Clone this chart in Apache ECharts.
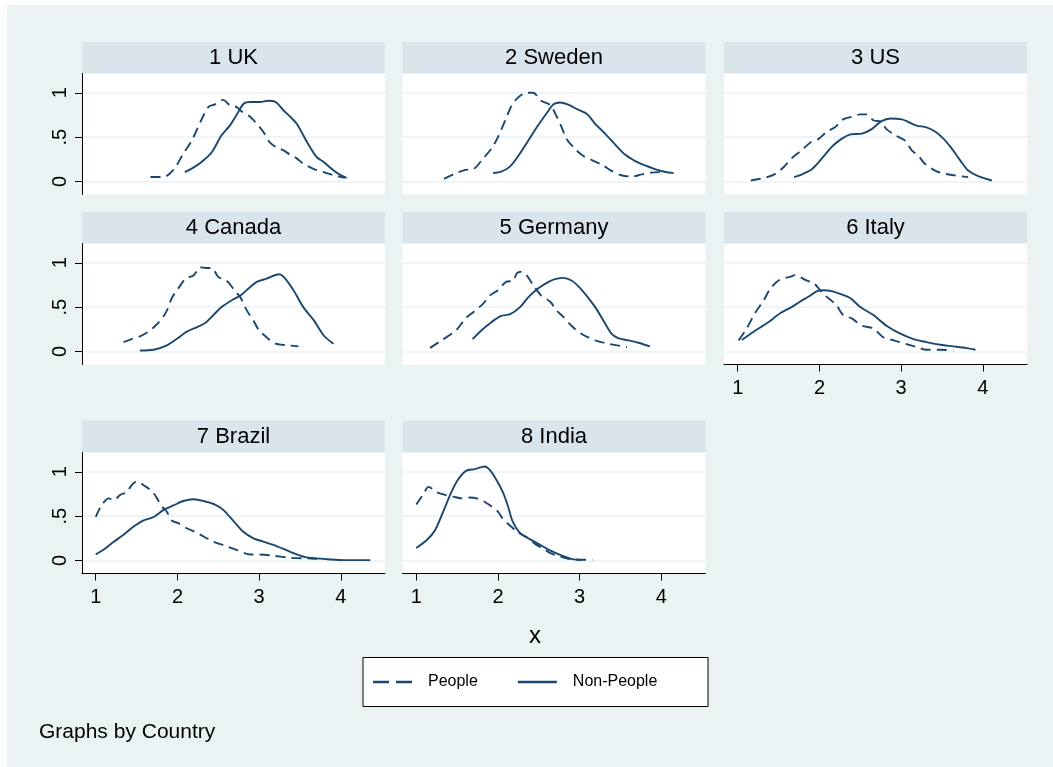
<!DOCTYPE html>
<html><head><meta charset="utf-8">
<script src="https://cdn.jsdelivr.net/npm/echarts@6/dist/echarts.min.js"></script>
<style>html,body{margin:0;padding:0;background:#fff}#c{width:1053px;height:767px}</style>
</head><body><div id="c"></div>
<script>
const countries = ['1 UK','2 Sweden','3 US','4 Canada','5 Germany','6 Italy','7 Brazil','8 India'];
const seriesNames = ['People','Non-People'];
const xTicks = [1,2,3,4];
const yTicks = [0,0.5,1];
const yTickLabels = {0:'0',0.5:'.5',1:'1'};
const xTitle = 'x';
const note = 'Graphs by Country';

const ukPeople = [[1.67,.05],[1.83,.05],[1.95,.13],[2.07,.31],[2.18,.47],[2.28,.67],[2.38,.84],[2.46,.87],[2.56,.92],[2.64,.86],[2.72,.84],[2.80,.78],[2.89,.73],[2.97,.65],[3.05,.56],[3.13,.44],[3.22,.38],[3.30,.35],[3.38,.30],[3.46,.26],[3.54,.20],[3.67,.14],[3.79,.105],[3.91,.07],[4.05,.04]];
const ukNon = [[2.09,.105],[2.22,.17],[2.32,.24],[2.42,.33],[2.54,.52],[2.64,.63],[2.73,.76],[2.81,.876],[2.89,.895],[3.01,.895],[3.11,.91],[3.2,.895],[3.30,.80],[3.38,.73],[3.46,.65],[3.54,.52],[3.62,.39],[3.71,.27],[3.79,.22],[3.89,.14],[3.97,.086],[4.07,.04]];
const swPeople = [[1.34,.03],[1.47,.086],[1.6,.13],[1.70,.14],[1.82,.26],[1.92,.37],[2.0,.50],[2.09,.69],[2.17,.86],[2.25,.95],[2.35,1.0],[2.43,1.0],[2.53,.91],[2.64,.86],[2.72,.73],[2.78,.61],[2.84,.48],[2.94,.37],[3.04,.29],[3.15,.24],[3.27,.19],[3.39,.12],[3.51,.07],[3.64,.056],[3.76,.08],[3.88,.10],[4.0,.105]];
const swNon = [[1.94,.094],[2.04,.11],[2.15,.17],[2.25,.29],[2.37,.46],[2.49,.63],[2.62,.80],[2.68,.87],[2.76,.89],[2.86,.865],[2.98,.81],[3.09,.76],[3.19,.65],[3.31,.54],[3.43,.42],[3.56,.30],[3.68,.23],[3.80,.18],[3.92,.14],[4.04,.11],[4.15,.094]];
const usPeople = [[1.16,.011],[1.33,.04],[1.46,.086],[1.56,.16],[1.66,.26],[1.78,.35],[1.89,.44],[1.99,.48],[2.09,.56],[2.19,.61],[2.29,.70],[2.40,.73],[2.50,.756],[2.58,.756],[2.66,.69],[2.76,.67],[2.82,.59],[2.93,.52],[3.05,.46],[3.13,.35],[3.21,.29],[3.29,.20],[3.42,.12],[3.54,.086],[3.66,.068],[3.82,.049]];
const usNon = [[1.69,.049],[1.80,.086],[1.91,.14],[2.03,.26],[2.15,.39],[2.27,.48],[2.38,.53],[2.52,.54],[2.64,.59],[2.76,.68],[2.87,.71],[3.01,.70],[3.09,.67],[3.19,.63],[3.31,.61],[3.42,.56],[3.52,.48],[3.62,.37],[3.72,.24],[3.82,.124],[3.95,.056],[4.11,.011]];
const caPeople = [[1.34,.106],[1.44,.14],[1.54,.17],[1.64,.22],[1.73,.29],[1.81,.37],[1.87,.46],[1.93,.60],[2.01,.71],[2.10,.82],[2.20,.86],[2.28,.95],[2.36,.94],[2.42,.94],[2.50,.84],[2.60,.80],[2.69,.70],[2.77,.61],[2.85,.46],[2.93,.35],[2.99,.25],[3.09,.16],[3.20,.087],[3.32,.072],[3.48,.057]];
const caNon = [[1.54,.011],[1.71,.019],[1.87,.068],[1.99,.14],[2.11,.22],[2.24,.275],[2.34,.32],[2.44,.41],[2.54,.50],[2.67,.58],[2.77,.63],[2.87,.71],[2.97,.785],[3.09,.82],[3.24,.87],[3.30,.84],[3.42,.69],[3.54,.50],[3.67,.35],[3.79,.18],[3.91,.087]];
const dePeople = [[1.17,.04],[1.31,.125],[1.49,.24],[1.60,.37],[1.72,.46],[1.82,.54],[1.90,.63],[2.0,.69],[2.10,.785],[2.19,.80],[2.23,.88],[2.29,.90],[2.35,.86],[2.43,.75],[2.53,.63],[2.64,.56],[2.72,.46],[2.80,.39],[2.90,.29],[3.02,.20],[3.19,.125],[3.35,.087],[3.58,.049]];
const deNon = [[1.69,.14],[1.80,.24],[1.92,.33],[2.04,.40],[2.15,.42],[2.27,.50],[2.37,.61],[2.49,.71],[2.62,.785],[2.70,.815],[2.80,.83],[2.90,.80],[3.00,.72],[3.10,.61],[3.19,.50],[3.29,.35],[3.39,.20],[3.47,.15],[3.60,.125],[3.72,.098],[3.86,.057]];
const itPeople = [[1.01,.125],[1.11,.26],[1.21,.43],[1.32,.58],[1.40,.71],[1.50,.80],[1.58,.83],[1.64,.84],[1.70,.86],[1.76,.84],[1.84,.80],[1.93,.77],[1.99,.71],[2.07,.63],[2.15,.57],[2.21,.52],[2.29,.41],[2.40,.37],[2.52,.29],[2.66,.26],[2.78,.16],[2.91,.125],[3.05,.087],[3.19,.049],[3.31,.019],[3.48,.019],[3.64,.011]];
const itNon = [[1.05,.13],[1.19,.22],[1.36,.32],[1.52,.43],[1.66,.50],[1.76,.56],[1.87,.62],[1.97,.68],[2.05,.69],[2.15,.68],[2.25,.65],[2.38,.60],[2.50,.50],[2.66,.41],[2.82,.29],[2.99,.20],[3.15,.14],[3.31,.106],[3.48,.075],[3.64,.057],[3.80,.038],[3.91,.019]];
const brPeople = [[1.0,.49],[1.07,.62],[1.16,.70],[1.22,.68],[1.30,.74],[1.38,.77],[1.44,.85],[1.50,.89],[1.60,.84],[1.69,.78],[1.75,.70],[1.81,.61],[1.87,.55],[1.93,.45],[2.01,.42],[2.12,.36],[2.22,.32],[2.32,.27],[2.44,.21],[2.57,.17],[2.73,.117],[2.89,.068],[3.01,.068],[3.18,.053],[3.38,.03],[3.59,.023],[3.79,.015]];
const brNon = [[1.0,.068],[1.09,.117],[1.22,.21],[1.34,.29],[1.46,.38],[1.58,.45],[1.71,.49],[1.83,.57],[1.95,.62],[2.07,.67],[2.20,.69],[2.32,.67],[2.46,.63],[2.56,.57],[2.69,.44],[2.81,.32],[2.93,.25],[3.06,.21],[3.22,.16],[3.38,.098],[3.55,.041],[3.71,.023],[3.87,.011],[4.04,.004],[4.36,.004]];
const inPeople = [[1.0,.63],[1.09,.75],[1.15,.83],[1.25,.77],[1.35,.74],[1.45,.72],[1.56,.70],[1.66,.71],[1.74,.70],[1.82,.67],[1.92,.61],[2.0,.55],[2.06,.47],[2.14,.40],[2.24,.32],[2.37,.25],[2.45,.19],[2.55,.135],[2.65,.079],[2.77,.041],[2.89,.015],[3.06,.008],[3.16,.008]];
const inNon = [[1.0,.14],[1.13,.23],[1.23,.34],[1.33,.55],[1.43,.77],[1.51,.91],[1.61,1.01],[1.72,1.03],[1.84,1.06],[1.90,1.02],[1.98,.91],[2.06,.77],[2.12,.62],[2.18,.44],[2.26,.32],[2.37,.25],[2.49,.19],[2.63,.117],[2.77,.06],[2.91,.015],[3.02,.004]];

const panelData = [[ukPeople,ukNon],[swPeople,swNon],[usPeople,usNon],[caPeople,caNon],[dePeople,deNon],[itPeople,itNon],[brPeople,brNon],[inPeople,inNon]];

// layout
const FONT = '"Liberation Sans", Arial, Helvetica, sans-serif';
const NAVY = '#1a476f';
const BG = '#eaf2f3';
const HEAD = '#d9e5eb';
const colLeft = [82, 402.5, 724];
const rowTop = [73.5, 243.5, 452.5];
const headTop = [42, 212, 420.5];
const plotW = 303, plotH = 121;
const xMin = 0.832, xMax = 4.54, yMin = -0.147, yMax = 1.217;

const grids = [], xAxes = [], yAxes = [], series = [], graphics = [];
graphics.push({type:'rect', shape:{x:0,y:0,width:1053,height:5}, style:{fill:'#fff'}, silent:true});
graphics.push({type:'rect', shape:{x:0,y:0,width:7,height:767}, style:{fill:'#fff'}, silent:true});

countries.forEach((name, i) => {
  const r = Math.floor(i / 3), c = i % 3;
  const left = colLeft[c], top = rowTop[r];
  grids.push({left: left, top: top, width: plotW, height: plotH, show: true,
    backgroundColor: '#fff', borderWidth: 0});
  const showX = i >= 5;
  const showY = c === 0;
  xAxes.push({gridIndex: i, type: 'value', min: xMin, max: xMax,
    axisLine: {show: showX, onZero: false, lineStyle: {color: '#000', width: 1}},
    axisTick: {show: showX, customValues: xTicks, length: 7, lineStyle: {color: '#000', width: 1}},
    axisLabel: {show: showX, customValues: xTicks, fontSize: 20, color: '#000', margin: 14, fontFamily: FONT},
    splitLine: {show: false}});
  yAxes.push({gridIndex: i, type: 'value', min: yMin, max: yMax,
    axisLine: {show: showY, onZero: false, lineStyle: {color: '#000', width: 1}},
    axisTick: {show: showY, customValues: yTicks, length: 7, lineStyle: {color: '#000', width: 1}},
    axisLabel: {show: showY, customValues: yTicks, rotate: 90, fontSize: 20, color: '#000', margin: 12,
      fontFamily: FONT, formatter: v => yTickLabels[v] !== undefined ? yTickLabels[v] : String(v)},
    splitLine: {show: true, lineStyle: {color: BG, width: 1.5}}});
  const [pp, np] = panelData[i];
  series.push({name: seriesNames[0], type: 'line', xAxisIndex: i, yAxisIndex: i, data: pp,
    showSymbol: false, symbol: 'none', smooth: 0.3, silent: true,
    lineStyle: {color: NAVY, width: 1.9, type: [10, 6]}, itemStyle: {color: NAVY}});
  series.push({name: seriesNames[1], type: 'line', xAxisIndex: i, yAxisIndex: i, data: np,
    showSymbol: false, symbol: 'none', smooth: 0.3, silent: true,
    lineStyle: {color: NAVY, width: 1.9}, itemStyle: {color: NAVY}});
  const hTop = headTop[r], hH = top - hTop;
  graphics.push({type: 'group', silent: true, children: [
    {type: 'rect', shape: {x: left, y: hTop, width: plotW, height: hH}, style: {fill: HEAD}},
    {type: 'text', x: left + plotW / 2, y: hTop + hH / 2,
      style: {text: name, fill: '#000', font: '22px ' + FONT, align: 'center', verticalAlign: 'middle'}}
  ]});
});

// x title
graphics.push({type: 'text', x: 535, y: 636, silent: true,
  style: {text: xTitle, fill: '#000', font: '24px ' + FONT, align: 'center', verticalAlign: 'middle'}});
// legend box
graphics.push({type: 'rect', silent: true, shape: {x: 363, y: 657.5, width: 345, height: 49},
  style: {fill: '#fff', stroke: '#000', lineWidth: 1}});
// note
graphics.push({type: 'text', x: 39, y: 732, silent: true,
  style: {text: note, fill: '#000', font: '21px ' + FONT, align: 'left', verticalAlign: 'middle'}});

const chart = echarts.init(document.getElementById('c'), null, {renderer: 'canvas'});
chart.setOption({
  animation: false,
  backgroundColor: BG,
  grid: grids, xAxis: xAxes, yAxis: yAxes, series: series,
  legend: {left: 373, top: 674, itemWidth: 39, itemHeight: 14, itemGap: 40, padding: 0,
    selectedMode: false, z: 10, symbolKeepAspect: true,
    data: [{name: seriesNames[0], icon: 'path://M0,0h16v2.4h-16z M23,0h16v2.4h-16z', itemStyle: {color: NAVY}},
           {name: seriesNames[1], icon: 'path://M0,0h39v2.4h-39z', itemStyle: {color: NAVY}}],
    textStyle: {fontSize: 16, color: '#000', fontFamily: FONT, padding: [0, 0, 0, 11]}},
  graphic: graphics
});
</script></body></html>
